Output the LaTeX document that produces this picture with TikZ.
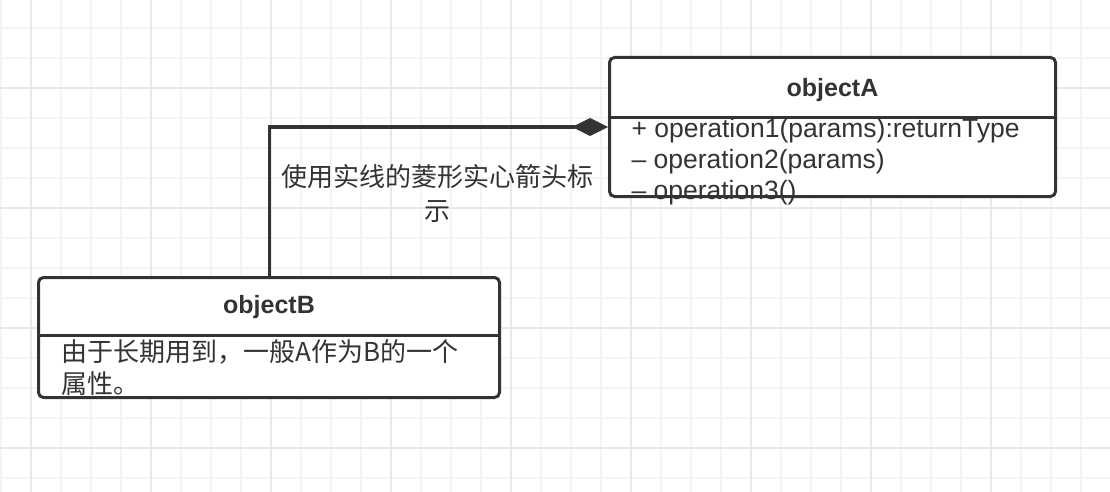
\documentclass[tikz,border=0pt]{standalone}
\usepackage{fontspec}
\setmainfont{Liberation Sans}
\newfontfamily\cjk{Noto Sans CJK SC}
\usetikzlibrary{arrows.meta}
\definecolor{linegray}{HTML}{333333}
\definecolor{minorgrid}{HTML}{F4F4F4}
\definecolor{majorgrid}{HTML}{E9E9E9}

\begin{document}
\begin{tikzpicture}[x=1pt,y=-1pt,line width=3pt,
  class box/.style={draw=linegray,fill=white,rounded corners=5pt,inner sep=0pt},
  title text/.style={font=\fontsize{25}{30}\selectfont\bfseries,text=linegray},
  body text/.style={font=\fontsize{26.5}{31}\selectfont,text=linegray,align=left,inner sep=0pt},
  cjk text/.style={font=\cjk\fontsize{26}{32}\selectfont,text=linegray,align=left,inner sep=0pt},
  note text/.style={font=\cjk\fontsize{26}{34}\selectfont,text=linegray,align=center,inner sep=0pt}]

  \useasboundingbox (0,0) rectangle (1110,492);
  \fill[white] (0,0) rectangle (1110,492);

  % grid
  \foreach \gx in {1,31,...,1081} \draw[minorgrid,line width=2pt] (\gx,0) -- (\gx,492);
  \foreach \gy in {28,58,...,478} \draw[minorgrid,line width=2pt] (0,\gy) -- (1110,\gy);
  \foreach \gx in {31,151,...,991} \draw[majorgrid,line width=2pt] (\gx,0) -- (\gx,492);
  \foreach \gy in {88,208,...,448} \draw[majorgrid,line width=2pt] (0,\gy) -- (1110,\gy);

  % classes
  \node[class box,minimum width=446pt,minimum height=139pt] (A) at (832.5,127) {};
  \node[class box,minimum width=461pt,minimum height=120pt] (B) at (269,337.5) {};
  \draw[linegray] (A.west |- 0,118) -- (A.east |- 0,118);
  \draw[linegray] (B.west |- 0,335) -- (B.east |- 0,335);

  \node[title text] (Atitle) at (832.5,90) {objectA};
  \node[title text] (Btitle) at (269,307) {objectB};

  \node[body text,anchor=base west] (Aops) at (630,199)
    {+ operation1(params):returnType\\– operation2(params)\\– operation3()};
  \node[cjk text,anchor=base west] (Bnote) at (60,393.5)
    {由于长期用到，一般A作为B的一个\\属性。};

  % composition
  \draw[linegray,-{Diamond[length=36pt,width=18pt]}] (B.north) |- (A.west);
  \node[note text] (label) at (437,193) {使用实线的菱形实心箭头标\\示};

\end{tikzpicture}
\end{document}
